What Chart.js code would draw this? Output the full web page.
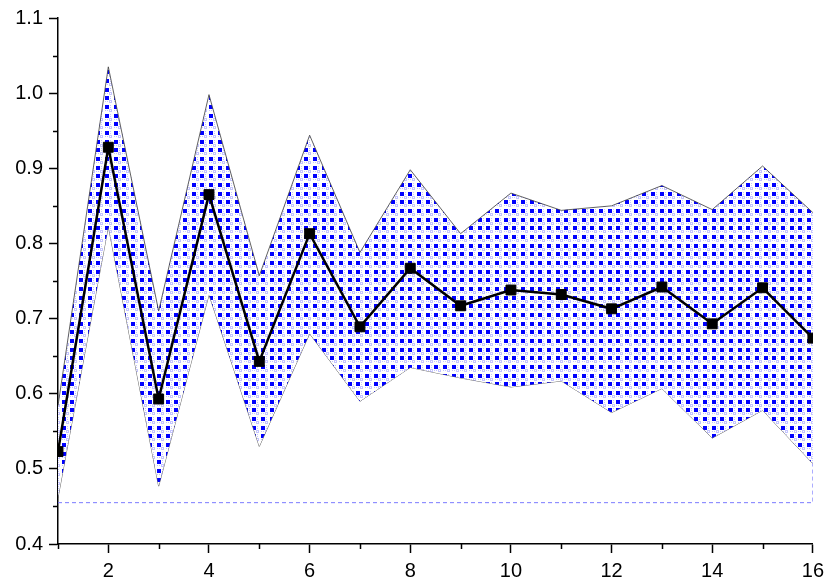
<!DOCTYPE html>
<html>
<head>
<meta charset="utf-8">
<script src="https://cdn.jsdelivr.net/npm/chart.js@4/dist/chart.umd.min.js"></script>
<style>
  html, body { margin: 0; padding: 0; background: #ffffff; }
  canvas { display: block; }
</style>
</head>
<body>
<canvas id="c" width="830" height="587"></canvas>
<script>
// ---- data ----
const xValues = [1, 2, 3, 4, 5, 6, 7, 8, 9, 10, 11, 12, 13, 14, 15, 16];
const meanValues = [0.523, 0.928, 0.593, 0.865, 0.643, 0.813, 0.689, 0.767, 0.717, 0.738, 0.732, 0.713, 0.742, 0.693, 0.741, 0.674];
const upperValues = [0.584, 1.035, 0.710, 0.998, 0.757, 0.944, 0.788, 0.898, 0.813, 0.867, 0.844, 0.850, 0.877, 0.845, 0.903, 0.841];
const lowerValues = [0.462, 0.823, 0.477, 0.732, 0.530, 0.680, 0.590, 0.635, 0.621, 0.609, 0.617, 0.575, 0.607, 0.541, 0.578, 0.507];
const baselineValue = 0.455;
const xMajorTicks = [2, 4, 6, 8, 10, 12, 14, 16];
const xMinorTicks = [1, 3, 5, 7, 9, 11, 13, 15];
const yMajorTicks = [0.4, 0.5, 0.6, 0.7, 0.8, 0.9, 1.0, 1.1];
const yMinorTicks = [0.45, 0.55, 0.65, 0.75, 0.85, 0.95, 1.05];

const toPoints = (vals) => xValues.map((x, i) => ({ x: x, y: vals[i] }));
const baselinePoints = [
  { x: xValues[0], y: baselineValue },
  { x: xValues[xValues.length - 1], y: baselineValue },
  { x: xValues[xValues.length - 1], y: lowerValues[lowerValues.length - 1] }
];

// ---- pattern fill ----
const canvas = document.getElementById('c');
const ctx = canvas.getContext('2d');
function makePattern() {
  const t = document.createElement('canvas');
  t.width = 26; t.height = 26;
  const g = t.getContext('2d');
  g.fillStyle = '#ffffff';
  g.fillRect(0, 0, 26, 26);
  const offs = [0, 9, 17];
  for (const oy of offs) for (const ox of offs) {
    // pale hash marks in the gaps
    g.fillStyle = '#c4c4ff';
    g.fillRect(ox + 6, oy + 1, 1, 1);
    g.fillRect(ox + 6, oy + 3, 1, 1);
    g.fillRect(ox + 1, oy + 6, 1, 1);
    g.fillRect(ox + 3, oy + 6, 1, 1);
    g.fillRect(ox + 5, oy + 5, 1, 3);
    g.fillRect(ox + 7, oy + 5, 1, 3);
    g.fillRect(ox + 6, oy + 5, 1, 1);
    g.fillRect(ox + 6, oy + 7, 1, 1);
    g.fillStyle = '#0000ff';
    g.fillRect(ox + 1, oy + 1, 4, 4);
  }
  return ctx.createPattern(t, 'repeat');
}
const bandPattern = makePattern();

// ---- minor ticks plugin ----
const minorTicksPlugin = {
  id: 'minorTicks',
  afterDraw(chart) {
    const c = chart.ctx;
    const xs = chart.scales.x, ys = chart.scales.y;
    const left = chart.chartArea.left, bottom = chart.chartArea.bottom;
    c.save();
    c.strokeStyle = '#000000';
    c.lineWidth = 1.5;
    c.beginPath();
    for (const v of yMinorTicks) {
      const py = Math.round(ys.getPixelForValue(v)) + 0.5;
      c.moveTo(left - 5, py);
      c.lineTo(left, py);
    }
    for (const v of xMinorTicks) {
      const px = Math.round(xs.getPixelForValue(v)) + 0.5;
      c.moveTo(px, bottom);
      c.lineTo(px, bottom + 5);
    }
    c.stroke();
    c.restore();
  }
};

const font = { family: "'Liberation Sans', Arial, sans-serif", size: 20 };

new Chart(ctx, {
  type: 'line',
  data: {
    datasets: [
      {
        label: 'mean',
        data: toPoints(meanValues),
        borderColor: '#000000',
        borderWidth: 2.5,
        pointStyle: 'rect',
        pointRadius: 7,
        pointBorderWidth: 1,
        pointBackgroundColor: '#000000',
        pointBorderColor: '#000000',
        fill: false,
        tension: 0,
        order: 0
      },
      {
        label: 'upper',
        data: toPoints(upperValues),
        borderColor: '#3a3a3a',
        borderWidth: 0.8,
        pointRadius: 0,
        backgroundColor: bandPattern,
        fill: '+1',
        tension: 0,
        order: 2
      },
      {
        label: 'lower',
        data: toPoints(lowerValues),
        borderColor: '#3a3a3a',
        borderWidth: 0.8,
        pointRadius: 0,
        fill: false,
        tension: 0,
        order: 2
      },
      {
        label: 'baseline',
        data: baselinePoints,
        borderColor: '#7b7bff',
        borderWidth: 1,
        borderDash: [4, 3],
        pointRadius: 0,
        fill: false,
        tension: 0,
        order: 3
      }
    ]
  },
  options: {
    responsive: false,
    devicePixelRatio: 1,
    animation: false,
    layout: { padding: { top: 15, right: 17, left: 0, bottom: 0 } },
    plugins: { legend: { display: false }, tooltip: { enabled: false } },
    scales: {
      x: {
        type: 'linear',
        min: 1,
        max: 16,
        afterBuildTicks: (s) => { s.ticks = xMajorTicks.map(v => ({ value: v })); },
        afterFit: (s) => { s.height = 43; },
        ticks: { color: '#000000', font: font, padding: 6, maxRotation: 0, autoSkip: false, callback: (v) => String(v) },
        grid: { display: true, drawOnChartArea: false, drawTicks: true, tickLength: 9, tickColor: '#000000', tickWidth: 1.5 },
        border: { display: true, color: '#000000', width: 1.5 }
      },
      y: {
        type: 'linear',
        min: 0.4,
        max: 1.1,
        afterBuildTicks: (s) => { s.ticks = yMajorTicks.map(v => ({ value: v })); },
        afterFit: (s) => { s.width = 58; },
        ticks: { color: '#000000', font: font, padding: 6, autoSkip: false, callback: (v) => Number(v).toFixed(1) },
        grid: { display: true, drawOnChartArea: false, drawTicks: true, tickLength: 9, tickColor: '#000000', tickWidth: 1.5 },
        border: { display: true, color: '#000000', width: 1.5 }
      }
    }
  },
  plugins: [minorTicksPlugin]
});
</script>
</body>
</html>
